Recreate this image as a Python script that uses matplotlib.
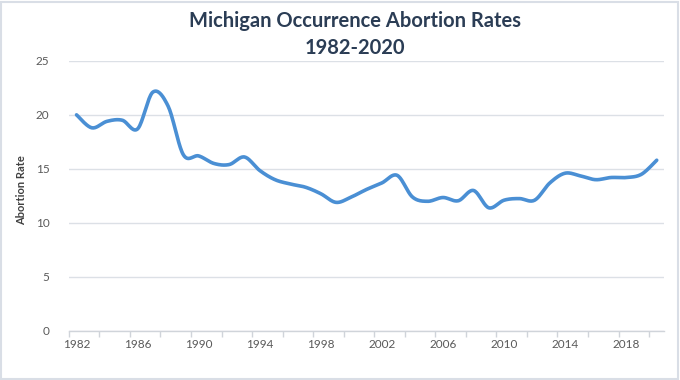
import numpy as np
import matplotlib
matplotlib.use("Agg")
import matplotlib.pyplot as plt
from matplotlib.patches import Rectangle

years = list(range(1982, 2021))
rates = [20.0, 18.8, 19.4, 19.5, 18.7, 22.1, 20.8, 16.3, 16.2, 15.5,
         15.4, 16.1, 14.85, 14.0, 13.6, 13.3, 12.7, 11.9, 12.4, 13.1,
         13.7, 14.4, 12.4, 12.0, 12.35, 12.05, 13.0, 11.4, 12.1, 12.25,
         12.1, 13.7, 14.6, 14.35, 14.0, 14.2, 14.2, 14.5, 15.8]
y_ticks = [0, 5, 10, 15, 20, 25]
x_label_years = [1982, 1986, 1990, 1994, 1998, 2002, 2006, 2010, 2014, 2018]

plt.rcParams['font.family'] = ['Lato', 'DejaVu Sans']

def smooth(xs, ys, n=20):
    # Excel-style smoothed line: cubic Bezier with control points (P2-P0)/6
    xs = np.asarray(xs, float); ys = np.asarray(ys, float)
    P = np.column_stack([xs, ys])
    out = []
    for i in range(len(P) - 1):
        p0 = P[i - 1] if i > 0 else P[i]
        p1 = P[i]; p2 = P[i + 1]
        p3 = P[i + 2] if i + 2 < len(P) else P[i + 1]
        c1 = p1 + (p2 - p0) / 6.0
        c2 = p2 - (p3 - p1) / 6.0
        t = np.linspace(0, 1, n, endpoint=(i == len(P) - 2))[:, None]
        seg = ((1 - t) ** 3) * p1 + 3 * ((1 - t) ** 2) * t * c1 + 3 * (1 - t) * t ** 2 * c2 + t ** 3 * p2
        out.append(seg)
    out = np.vstack(out)
    return out[:, 0], out[:, 1]

fig = plt.figure(figsize=(6.8, 3.8), dpi=100)
fig.patch.set_facecolor('white')
fig.add_artist(Rectangle((0.002, 0.003), 0.995, 0.993, transform=fig.transFigure,
                         fill=False, edgecolor='#D9DEE6', linewidth=1.5))

ax = fig.add_axes([0.1013, 0.129, 0.8757, 0.711])
idx = np.arange(len(years))
sx, sy = smooth(idx, rates)
ax.plot(sx, sy, color='#4A8FD4', linewidth=2.6, solid_capstyle='round')

ax.set_xlim(-0.5, len(years) - 0.5)
ax.set_ylim(0, 25)
ax.set_yticks(y_ticks)
ax.set_yticklabels([str(v) for v in y_ticks])
ax.yaxis.grid(True, color='#DCE0E6', linewidth=1.0)
ax.set_axisbelow(True)

lab_pos = [years.index(y) for y in x_label_years]
ax.set_xticks(lab_pos)
ax.set_xticklabels([str(y) for y in x_label_years])
ax.set_xticks(np.arange(-0.5, len(years) - 0.5, 2), minor=True)
ax.tick_params(axis='x', which='major', length=0, pad=6, labelsize=8.5, labelcolor='#595959')
ax.tick_params(axis='x', which='minor', length=4, color='#D0D4DA', width=1)
ax.tick_params(axis='y', length=0, pad=14, labelsize=8.5, labelcolor='#595959')

for s in ['top', 'right', 'left']:
    ax.spines[s].set_visible(False)
ax.spines['bottom'].set_color('#D0D4DA')
ax.spines['bottom'].set_linewidth(1)

fig.text(0.032, 0.5, 'Abortion Rate', rotation=90, ha='center', va='center',
         fontsize=8, fontweight='bold', color='#404040')
fig.text(0.522, 0.945, 'Michigan Occurrence Abortion Rates', ha='center', va='center',
         fontsize=14.5, fontweight='bold', color='#2B3D55')
fig.text(0.522, 0.874, '1982-2020', ha='center', va='center',
         fontsize=14.5, fontweight='bold', color='#2B3D55')

fig.savefig('out.png', dpi=100)
